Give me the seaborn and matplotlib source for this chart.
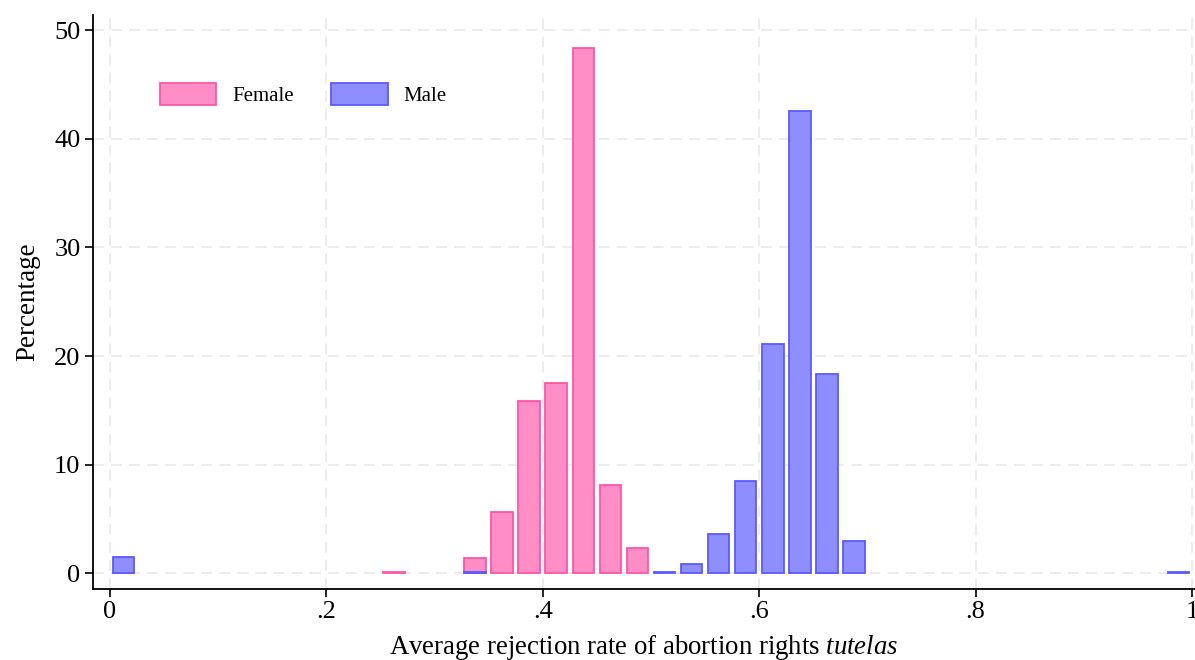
import numpy as np
import pandas as pd
import matplotlib
matplotlib.use("Agg")
import matplotlib.pyplot as plt
import seaborn as sns

# ---- data (bin centres of width-0.025 bins, percentages) ----
female_x = [0.0125, 0.2625, 0.3375, 0.3625, 0.3875, 0.4125, 0.4375, 0.4625, 0.4875, 0.6625]
female_pct = [0.12, 0.1, 1.45, 5.6, 15.85, 17.55, 48.35, 8.12, 2.3, 0.1]
male_x = [0.0125, 0.3375, 0.5125, 0.5375, 0.5625, 0.5875, 0.6125, 0.6375, 0.6625, 0.6875, 0.9875]
male_pct = [1.5, 0.1, 0.1, 0.83, 3.66, 8.46, 21.1, 42.53, 18.37, 2.95, 0.15]
x_ticks = [0, 0.2, 0.4, 0.6, 0.8, 1.0]
x_tick_labels = ["0", ".2", ".4", ".6", ".8", "1"]
y_ticks = [0, 10, 20, 30, 40, 50]

sns.set_theme(style="white")
plt.rcParams["font.family"] = ["Liberation Serif", "DejaVu Serif"]
plt.rcParams["mathtext.fontset"] = "custom"
plt.rcParams["mathtext.it"] = "Liberation Serif:italic"
plt.rcParams["mathtext.rm"] = "Liberation Serif"

fig = plt.figure(figsize=(11.95, 6.6), dpi=100)
ax = fig.add_axes([93 / 1195, 71 / 660, 1102 / 1195, 574 / 660])

df_f = pd.DataFrame({"x": female_x, "pct": female_pct})
df_m = pd.DataFrame({"x": male_x, "pct": male_pct})

sns.barplot(data=df_f, x="x", y="pct", native_scale=True, width=0.8,
            color="#FF8EC6", edgecolor="#FF55A8", linewidth=1.3,
            saturation=1, errorbar=None, label="Female", ax=ax)
sns.barplot(data=df_m, x="x", y="pct", native_scale=True, width=0.8,
            color="#8E8EFF", edgecolor="#5A5AFF", linewidth=1.3,
            saturation=1, errorbar=None, label="Male", ax=ax)

ax.set_xlim(-0.0157, 1.0028)
ax.set_ylim(-1.45, 51.4)
ax.set_xticks(x_ticks)
ax.set_xticklabels(x_tick_labels)
ax.set_yticks(y_ticks)

ax.grid(True, which="major", axis="both", color="#ebebeb",
        linestyle=(0, (6, 4)), linewidth=1.3)
ax.set_axisbelow(True)

for s in ["top", "right"]:
    ax.spines[s].set_visible(False)
for s in ["left", "bottom"]:
    ax.spines[s].set_color("black")
    ax.spines[s].set_linewidth(1.3)

ax.tick_params(axis="both", direction="out", length=6, width=1.2,
               color="black", labelsize=19, labelcolor="black",
               bottom=True, left=True)
ax.tick_params(axis="x", pad=3)
ax.tick_params(axis="y", pad=3)

ax.set_xlabel(r"Average rejection rate of abortion rights $\mathit{tutelas}$",
              fontsize=19.3, color="black", labelpad=7)
ax.set_ylabel("Percentage", fontsize=19.5, color="black", labelpad=10)

leg = ax.legend(loc="upper left", bbox_to_anchor=(0.0608, 0.882), ncol=2,
                frameon=False, fontsize=15, handlelength=2.7, handleheight=1.3,
                columnspacing=1.8, handletextpad=0.77, borderaxespad=0,
                borderpad=0)
for t in leg.get_texts():
    t.set_color("black")

fig.savefig("out.png", dpi=100)
